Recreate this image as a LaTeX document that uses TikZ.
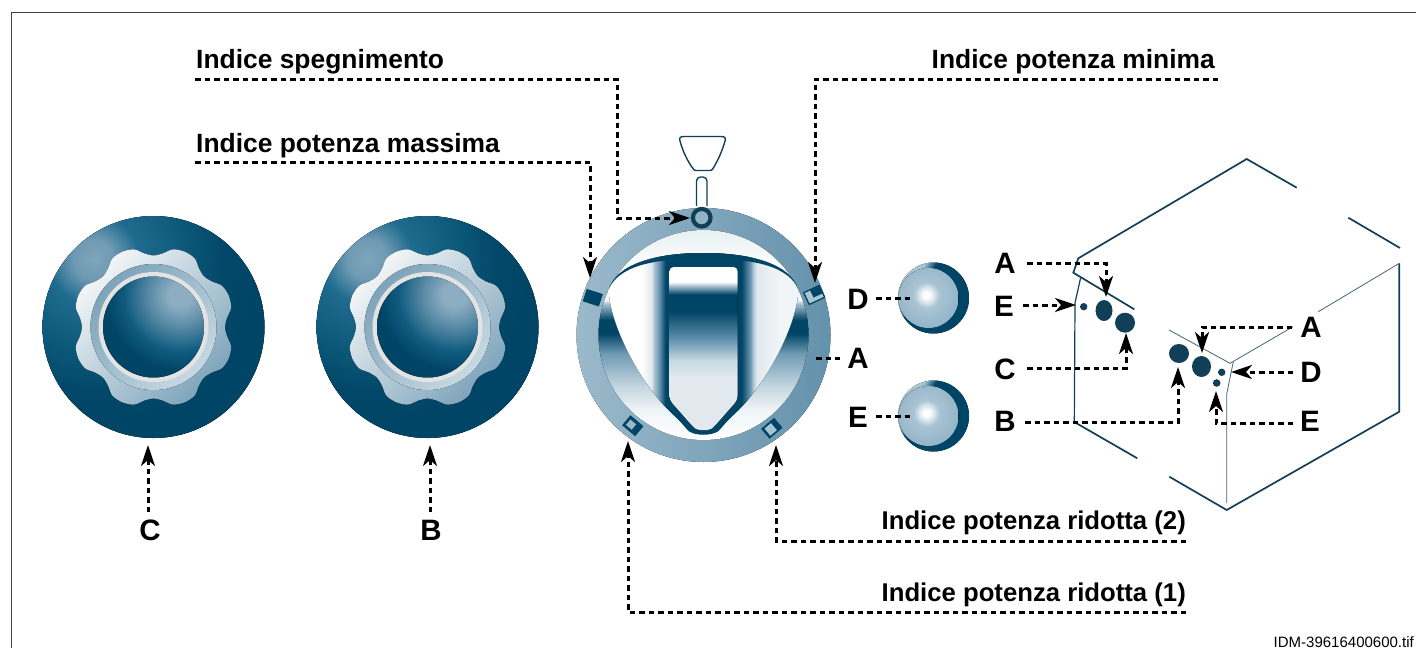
\documentclass[tikz,border=0pt]{standalone}
\usepackage{fontspec}
\setmainfont{Liberation Sans}
\usetikzlibrary{arrows.meta}
\definecolor{deep}{HTML}{004466}
\definecolor{steel}{HTML}{6F9AB3}
\definecolor{pale}{HTML}{A9C4D3}
\definecolor{mist}{HTML}{E2E9EE}
\definecolor{lineblue}{HTML}{123F58}
\definecolor{gearlight}{HTML}{F2F5F7}
\definecolor{geardark}{HTML}{7FA5BC}
\definecolor{ringleft}{HTML}{9BBACB}
\pgfdeclareradialshading{knobglow}{\pgfpoint{0bp}{0bp}}{rgb(0bp)=(0.50,0.65,0.73);color(2.4bp)=(steel);rgb(5.4bp)=(0.12,0.42,0.56);rgb(10.7bp)=(0.05,0.35,0.48);rgb(15.5bp)=(0.01,0.28,0.41);color(20bp)=(deep);color(50bp)=(deep)}
\pgfdeclareradialshading{capglow}{\pgfpoint{0bp}{0bp}}{rgb(0bp)=(0.55,0.68,0.76);rgb(3bp)=(0.55,0.68,0.76);rgb(8bp)=(0.35,0.54,0.65);rgb(14bp)=(0.06,0.36,0.50);color(19bp)=(deep);color(50bp)=(deep)}
\pgfdeclareradialshading{smallglow}{\pgfpoint{0bp}{0bp}}{color(0bp)=(white);color(2bp)=(white);rgb(5bp)=(0.86,0.91,0.94);color(9bp)=(pale);rgb(25bp)=(0.56,0.70,0.78);rgb(50bp)=(0.56,0.70,0.78)}
\pgfdeclarehorizontalshading{pointerbars}{100bp}{color(0bp)=(white);color(33.7bp)=(white);color(36.3bp)=(mist);color(37bp)=(pale);color(38.2bp)=(steel);color(40bp)=(deep);color(60bp)=(deep);color(62.4bp)=(steel);color(63bp)=(pale);color(64bp)=(mist);rgb(70bp)=(0.95,0.96,0.97);rgb(100bp)=(0.95,0.96,0.97)}
\pgfdeclareverticalshading{windowshade}{100bp}{color(0bp)=(mist);color(41.5bp)=(mist);rgb(46.6bp)=(0.78,0.85,0.88);rgb(53.4bp)=(0.35,0.55,0.66);color(61.5bp)=(deep);color(66.6bp)=(deep);rgb(69.6bp)=(0.75,0.82,0.87);color(70.5bp)=(white);color(100bp)=(white)}
\pgfdeclareverticalshading{dialinner}{100bp}{color(0bp)=(white);color(25bp)=(white);rgb(32bp)=(0.94,0.96,0.97);rgb(37.7bp)=(0.77,0.84,0.88);color(45.6bp)=(steel);color(50.4bp)=(deep);color(53.6bp)=(deep);color(57.5bp)=(pale);rgb(58.3bp)=(0.95,0.96,0.97);color(66bp)=(white);rgb(75bp)=(0.91,0.94,0.95);rgb(100bp)=(0.91,0.94,0.95)}
\pgfdeclareverticalshading{rimshade}{100bp}{color(0bp)=(deep);color(60.5bp)=(deep);color(67.6bp)=(pale);color(100bp)=(pale)}
\tikzset{
 x=1pt,y=-1pt,
 frameline/.style={line width=1pt,black!75},
 leader/.style={line width=3pt,dash pattern=on 5.5pt off 4pt,black},
 headline/.style={font=\bfseries\fontsize{26.4}{26.4}\selectfont,inner sep=0pt,anchor=base west},
 headnarrow/.style={font=\bfseries\fontsize{25.7}{25.7}\selectfont,inner sep=0pt,anchor=base east},
 letter/.style={font=\bfseries\fontsize{29.5}{29.5}\selectfont,inner sep=0pt},
 boxline/.style={line width=1.7pt,lineblue,line join=miter},
 thinline/.style={line width=0.8pt,lineblue!80},
 blob/.style={fill=lineblue,draw=none},
}
\newcommand{\gearsector}[1]{(#1+0:71.5) (#1+7:74) (#1+14:80) (#1+22.5:81.5) (#1+31:80) (#1+38:74)}
\newcommand{\bigknob}[1]{%
 \begin{scope}[shift={(#1)}]
  \fill[deep] (0,0) circle (111);
  \begin{scope}
   \clip (0,0) circle (111);
   \fill[shading=knobglow] (-60,-68) circle (210);
  \end{scope}
  \fill[top color=gearlight,bottom color=geardark,shading angle=45] plot[smooth cycle,tension=0.5] coordinates {\gearsector{0} \gearsector{45} \gearsector{90} \gearsector{135} \gearsector{180} \gearsector{225} \gearsector{270} \gearsector{315}};
  \fill[top color=steel!90!white,bottom color=white!35!pale,shading angle=45] (0,0) circle (63);
  \fill[white!78!gray] (0,0) circle (55);
  \begin{scope}
   \clip (0,0) circle (50.5);
   \fill[shading=capglow] (27,-32) circle (100);
  \end{scope}
 \end{scope}}
\newcommand{\smallknob}[1]{%
 \begin{scope}[shift={(#1)}]
  \fill[shading=rimshade,shading angle=60] (0,0) circle (35.5);
  \begin{scope}
   \clip (-5,0) circle (30);
   \fill[shading=smallglow] (-7,-3) circle (36);
  \end{scope}
 \end{scope}}
\newcommand{\pointerpath}{(-95,-45) .. controls (-88,-70) and (-50,-82) .. (0,-82) .. controls (50,-82) and (88,-70) .. (95,-45) .. controls (93,-10) and (65,45) .. (35,75) -- (15,94) .. controls (8,100) and (-8,100) .. (-15,94) -- (-35,75) .. controls (-65,45) and (-93,-10) .. (-95,-45) -- cycle}
\begin{document}
\begin{tikzpicture}
\useasboundingbox (0,0) rectangle (1416,648);
\draw[frameline] (11,648) -- (11,12) -- (1416,12);
\node[inner sep=0pt,anchor=base east,font=\fontsize{15}{15}\selectfont] (fname) at (1414,647.5) {IDM-39616400600.tif};
% knobs
\bigknob{153.5,327}
\bigknob{427.5,327}
\smallknob{933.5,298}
\smallknob{933.5,416}
% dial
\begin{scope}[shift={(703.5,335)}]
 \fill[left color=ringleft,middle color=steel,right color=steel!90!deep] (0,0) circle (127);
 \fill[shading=dialinner] (0,0) circle (105);
 \fill[pale] \pointerpath;
 \begin{scope}
  \clip \pointerpath;
  \fill[shading=pointerbars] (-95,-100) rectangle (95,102);
 \end{scope}
 % dark top sliver of the pointer
 \fill[deep] (-95,-45) .. controls (-88,-70) and (-50,-82) .. (0,-82) .. controls (50,-82) and (88,-70) .. (95,-45) .. controls (86,-68) and (52,-77) .. (0,-76) .. controls (-52,-77) and (-86,-68) .. (-95,-45) -- cycle;
 \fill[deep] (-38,-78) rectangle (38,-66);
 \fill[deep] (-38,55) -- (-38,70) -- (-15,96) .. controls (-8,101) and (8,101) .. (15,96) -- (38,70) -- (38,55) -- cycle;
 \fill[shading=windowshade,rounded corners=4pt] (-34,-68) -- (34,-68) -- (34,65) -- (12,90) .. controls (6,96) and (-6,96) .. (-12,90) -- (-34,65) -- cycle;
 % markers
 \fill[deep,rotate around={-18:(-110.7,-37.3)}] (-119.2,-43.8) rectangle (-102.2,-30.8);
 \begin{scope}[rotate around={25:(110.7,-40)}]
  \draw[deep,line width=1.3pt,fill=pale] (102.2,-46.5) rectangle (119.2,-33.5);
  \fill[deep] (109,-46.5) rectangle (119.2,-38);
 \end{scope}
 \begin{scope}[rotate around={-40:(-70.7,90.7)}]
  \fill[deep] (-79.2,84.2) rectangle (-62.2,97.2);
  \fill[steel!70!white] (-76.5,87.5) rectangle (-69,94.5);
 \end{scope}
 \begin{scope}[rotate around={40:(68.3,93.3)}]
  \fill[deep] (59.8,86.8) rectangle (76.8,99.8);
  \fill[pale] (62.5,88.8) rectangle (71,98);
 \end{scope}
\end{scope}
% handle
\draw[lineblue,line width=1.4pt] (702,136.5) -- (721,136.5) .. controls (725,136.5) and (726,138) .. (725,141) .. controls (722,152) and (717,162) .. (713,168.5) .. controls (712,170) and (711,170.5) .. (710,170.5) -- (696,170.5) .. controls (695,170.5) and (694,170) .. (693,168.5) .. controls (688,162) and (683,152) .. (680,141) .. controls (679,138) and (680,136.5) .. (684,136.5) -- cycle;
\draw[lineblue,line width=1.4pt,rounded corners=4pt] (696.5,206) -- (696.5,177) -- (707,177) -- (707,206);
\draw[lineblue,line width=4.2pt,fill=steel!75!white] (701.7,217.7) circle (8.8);
% box
\draw[boxline] (1134.3,309.3) -- (1073.3,272.7) -- (1078.3,258.3) -- (1246.7,159) -- (1296.7,187.7);
\draw[boxline] (1348.3,217.7) -- (1400,248);
\draw[boxline] (1074.3,422) -- (1137.3,458.3);
\draw[boxline] (1169.3,476.7) -- (1226.7,510) -- (1399.3,411.7) -- (1399.3,263.3);
\draw[line width=1.2pt,lineblue] (1080.5,278.3) -- (1075,303) -- (1074.3,422);
\draw[thinline] (1169,330) -- (1230,363.3) -- (1293,326.7);
\draw[thinline] (1318.3,311.7) -- (1399.3,263.3);
\draw[thinline] (1233.3,361.7) -- (1226.7,394) -- (1226.7,503);
% blobs
\fill[blob] (1083.7,306.7) circle (3.7);
\fill[blob] (1104,310.5) ellipse (8.5 and 10.5);
\fill[blob] (1125,322.7) ellipse (10 and 10);
\fill[blob] (1179,353.5) ellipse (10 and 9.5);
\fill[blob] (1201.5,366.5) ellipse (9.5 and 10.5);
\fill[blob] (1221.7,372.3) circle (3.7);
\fill[blob] (1216.7,383) circle (3.8);
% labels
\node[headline] (lspegn) at (196,68) {Indice spegnimento};
\node[headline] (lmass) at (196,152) {Indice potenza massima};
\node[headline,anchor=base east] (lmin) at (1215,68) {Indice potenza minima};
\node[headnarrow] (lrid2) at (1186,529) {Indice potenza ridotta (2)};
\node[headnarrow] (lrid1) at (1186,601) {Indice potenza ridotta (1)};
\node[letter] (kC) at (150,530) {C};
\node[letter] (kB) at (431,530) {B};
\node[letter] (dA) at (858,358) {A};
\node[letter] (sD) at (858,299) {D};
\node[letter] (sE) at (858,417) {E};
\node[letter] (bA1) at (1005,263) {A};
\node[letter] (bE1) at (1004,306) {E};
\node[letter] (bC) at (1005,369) {C};
\node[letter] (bB) at (1005,421) {B};
\node[letter] (bA2) at (1311,327) {A};
\node[letter] (bD) at (1311,372) {D};
\node[letter] (bE2) at (1310,421) {E};
% connector ends
\coordinate (s0) at (195,79); \coordinate (s1) at (617,79); \coordinate (s2) at (617,218); \coordinate (s3) at (690,218);
\coordinate (m0) at (195,162); \coordinate (m1) at (590,162); \coordinate (m2) at (590,278);
\coordinate (n0) at (1218,79); \coordinate (n1) at (815,79); \coordinate (n2) at (815,283);
\coordinate (r0) at (1186,541); \coordinate (r1) at (776,541); \coordinate (r2) at (776,445);
\coordinate (q0) at (1186,612); \coordinate (q1) at (628,612); \coordinate (q2) at (628,441);
\coordinate (kc0) at (148,512); \coordinate (kc1) at (148,445);
\coordinate (kb0) at (430,512); \coordinate (kb1) at (430,445);
\coordinate (da0) at (816,358); \coordinate (da1) at (840,358);
\coordinate (sd0) at (876,298); \coordinate (sd1) at (910,298);
\coordinate (se0) at (876,416); \coordinate (se1) at (910,416);
\coordinate (a10) at (1027,263); \coordinate (a11) at (1106,263); \coordinate (a12) at (1106,297);
\coordinate (e10) at (1023,305); \coordinate (e11) at (1076,305);
\coordinate (c10) at (1027,368); \coordinate (c11) at (1126,368); \coordinate (c12) at (1126,333);
\coordinate (b10) at (1025,422); \coordinate (b11) at (1178,422); \coordinate (b12) at (1178,367);
\coordinate (a20) at (1292,327); \coordinate (a21) at (1202,327); \coordinate (a22) at (1202,353);
\coordinate (d20) at (1293,372); \coordinate (d21) at (1231,372);
\coordinate (e20) at (1293,423); \coordinate (e21) at (1216,423); \coordinate (e22) at (1216,391);
% connectors
\newcommand{\lead}[1]{\draw[leader,arrows={-{Stealth[length=21pt,width=14pt,inset=6pt]}}] #1;}
\lead{(s0) -- (s1) -- (s2) -- (s3)}
\lead{(m0) -- (m1) -- (m2)}
\lead{(n0) -- (n1) -- (n2)}
\lead{(r0) -- (r1) -- (r2)}
\lead{(q0) -- (q1) -- (q2)}
\lead{(kc0) -- (kc1)}
\lead{(kb0) -- (kb1)}
\draw[leader] (da0) -- (da1);
\draw[leader] (sd0) -- (sd1);
\draw[leader] (se0) -- (se1);
\lead{(a10) -- (a11) -- (a12)}
\lead{(e10) -- (e11)}
\lead{(c10) -- (c11) -- (c12)}
\lead{(b10) -- (b11) -- (b12)}
\lead{(a20) -- (a21) -- (a22)}
\lead{(d20) -- (d21)}
\lead{(e20) -- (e21) -- (e22)}
\end{tikzpicture}
\end{document}
